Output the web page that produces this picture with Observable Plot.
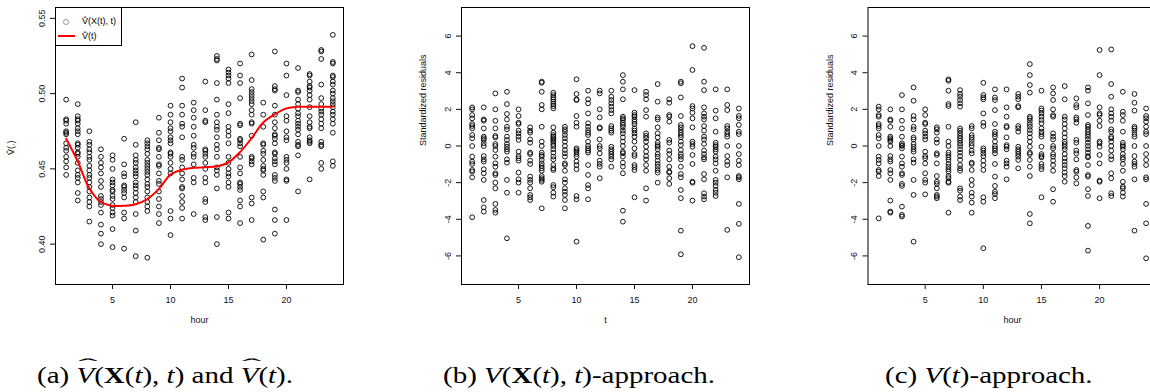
<!DOCTYPE html>
<html>
<head>
<meta charset="utf-8">
<script src="https://cdn.jsdelivr.net/npm/d3@7"></script>
<script src="https://cdn.jsdelivr.net/npm/@observablehq/plot@0.6"></script>
<style>
  body { margin: 0; background: #fff; }
  #wrap { position: relative; width: 1150px; height: 392px; overflow: hidden; background: #fff; }
  .panel { position: absolute; top: 0; }
  .legend { position: absolute; left: 55px; top: 7px; width: 67px; height: 39px; border: 1px solid #000; box-sizing: border-box; background: #fff;
            font-family: "Liberation Sans", Arial, sans-serif; font-size: 9px; color: #000; }
  .legend .circ { position: absolute; left: 7px; top: 11px; width: 4px; height: 4px; border: 0.8px solid #999; border-radius: 50%; }
  .legend .red { position: absolute; left: 2px; top: 27px; width: 17px; height: 2px; background: #ff0000; }
  .legend .lbl { position: absolute; left: 26px; line-height: 10px; white-space: nowrap; }
  .cap { position: absolute; top: 363px; font-family: "Liberation Serif", serif; font-size: 23px; line-height: 26px; white-space: nowrap; color: #000;
         transform: scaleX(1.26); transform-origin: 0 0; }
  .hat { position: relative; display: inline-block; }
  .hat::before { content: "\02C6"; position: absolute; left: 0.1em; right: -0.05em; top: -0.5em; text-align: center; font-style: normal;
                 transform: scale(2.0, 0.75); }
</style>
</head>
<body>
<div id="wrap"></div>
<script>
// x positions: hour of the day, 1..24
const hours = d3.range(1, 25);
const xTicks = [5, 10, 15, 20];
const vTicks = [0.40, 0.45, 0.50, 0.55];
const rTicks = [-6, -4, -2, 0, 2, 4, 6];

// V-hat(X(t), t): one list of estimates per hour
const vhatXt = [
  [0.496,0.483,0.482,0.480,0.475,0.474,0.473,0.467,0.464,0.462,0.458,0.455,0.451,0.446],
  [0.493,0.485,0.483,0.482,0.480,0.477,0.475,0.473,0.467,0.466,0.464,0.461,0.460,0.458,0.454,0.449,0.446,0.444,0.441,0.434,0.429],
  [0.475,0.468,0.466,0.463,0.461,0.458,0.456,0.452,0.449,0.446,0.444,0.441,0.438,0.435,0.431,0.428,0.425,0.415],
  [0.463,0.458,0.454,0.451,0.447,0.442,0.438,0.432,0.430,0.428,0.426,0.421,0.413,0.407,0.400],
  [0.459,0.456,0.450,0.443,0.441,0.439,0.436,0.435,0.432,0.430,0.426,0.424,0.421,0.419,0.410,0.398],
  [0.470,0.453,0.447,0.445,0.439,0.438,0.436,0.434,0.431,0.421,0.417,0.397],
  [0.481,0.466,0.459,0.456,0.454,0.451,0.449,0.447,0.445,0.441,0.439,0.437,0.434,0.431,0.428,0.420,0.409,0.392],
  [0.469,0.467,0.465,0.463,0.460,0.456,0.454,0.452,0.450,0.448,0.446,0.443,0.440,0.438,0.435,0.431,0.428,0.425,0.422,0.391],
  [0.484,0.474,0.469,0.464,0.463,0.458,0.453,0.452,0.447,0.442,0.440,0.435,0.430,0.425,0.420,0.414],
  [0.492,0.486,0.481,0.477,0.475,0.471,0.469,0.467,0.461,0.460,0.458,0.454,0.450,0.447,0.422,0.417,0.406],
  [0.510,0.504,0.492,0.486,0.480,0.478,0.471,0.458,0.456,0.451,0.447,0.443,0.438,0.437,0.432,0.428,0.424,0.417],
  [0.494,0.489,0.484,0.478,0.472,0.466,0.464,0.460,0.458,0.453,0.444,0.441,0.420],
  [0.508,0.489,0.482,0.481,0.463,0.462,0.460,0.458,0.454,0.450,0.444,0.441,0.430,0.428,0.418,0.416],
  [0.525,0.523,0.522,0.507,0.496,0.486,0.481,0.478,0.476,0.471,0.466,0.463,0.458,0.451,0.449,0.446,0.437,0.418,0.400],
  [0.516,0.514,0.512,0.510,0.507,0.493,0.487,0.478,0.475,0.472,0.467,0.458,0.454,0.450,0.447,0.445,0.441,0.438,0.421,0.417],
  [0.520,0.512,0.507,0.497,0.480,0.479,0.470,0.469,0.467,0.465,0.458,0.451,0.447,0.441,0.440,0.438,0.436,0.429,0.425,0.414],
  [0.526,0.509,0.503,0.501,0.499,0.497,0.495,0.493,0.489,0.486,0.481,0.480,0.472,0.458,0.457,0.455,0.453,0.431,0.427,0.416],
  [0.494,0.486,0.478,0.467,0.466,0.462,0.460,0.456,0.452,0.450,0.449,0.446,0.435,0.431,0.403],
  [0.528,0.505,0.503,0.502,0.492,0.486,0.481,0.477,0.473,0.472,0.470,0.467,0.461,0.460,0.457,0.455,0.453,0.446,0.444,0.442,0.423,0.416,0.407],
  [0.520,0.512,0.499,0.485,0.482,0.475,0.471,0.469,0.458,0.456,0.454,0.450,0.443,0.442,0.416],
  [0.517,0.502,0.501,0.496,0.493,0.490,0.487,0.485,0.482,0.480,0.478,0.476,0.473,0.468,0.466,0.465,0.459,0.435],
  [0.513,0.512,0.508,0.505,0.504,0.502,0.499,0.496,0.491,0.485,0.481,0.478,0.477,0.471,0.469,0.468,0.467,0.443],
  [0.529,0.528,0.523,0.506,0.497,0.493,0.490,0.488,0.486,0.483,0.480,0.477,0.468,0.466,0.465,0.454,0.450],
  [0.539,0.521,0.520,0.512,0.511,0.508,0.506,0.502,0.500,0.497,0.495,0.493,0.491,0.488,0.486,0.483,0.480,0.474,0.455,0.452]
];

// V-hat(t): the smooth hourly estimate
const vhatT = [0.470,0.455,0.437,0.428,0.4255,0.4255,0.4265,0.430,0.4367,0.4462,0.4495,0.4507,
               0.4511,0.4518,0.4544,0.4611,0.4705,0.4808,0.4863,0.4902,0.4912,0.4912,0.4912,0.4912];

// standardized residuals, V(X(t), t)-approach
const residX = [
  [2.11,2.0,1.69,1.51,1.2,1.09,0.96,0.6,0.42,0,-0.58,-0.85,-0.98,-1.31,-1.4,-1.71,-3.89],
  [2.11,1.45,1.38,0.96,0.51,0.42,0.33,0.15,0,-0.55,-0.73,-0.85,-1.27,-1.49,-1.85,-2.95,-3.35,-3.58],
  [2.87,2.0,1.38,0.96,0.55,0.47,0.11,0,-0.22,-0.58,-0.95,-1.13,-1.49,-1.58,-2.0,-2.31,-3.16,-3.49,-3.64],
  [2.96,2.29,1.75,1.45,1.05,0.91,0.51,0.33,0.11,-0.04,-0.18,-0.31,-0.73,-0.91,-1.85,-2.55,-5.04],
  [2.0,1.64,1.27,1.2,0.84,0.69,0.51,0.33,-0.31,-0.55,-0.67,-0.8,-1.45,-1.82,-2.0,-2.55],
  [1.02,0.84,0.73,0.36,0.18,-0.36,-0.44,-0.8,-0.98,-1.67,-1.85,-2.0,-2.31,-2.67,-2.8,-2.95],
  [3.51,3.45,2.96,2.24,2.0,1.05,0.24,0,-0.36,-0.49,-0.58,-0.76,-0.95,-1.09,-1.22,-1.35,-1.64,-1.76,-1.85,-1.95,-3.4],
  [2.91,2.78,2.65,2.55,2.42,2.29,2.18,2.05,1.02,0.73,0.6,0.51,0.42,0.33,0.24,0.11,0,-0.18,-0.36,-0.58,-0.73,-1.04,-1.22,-1.31,-2.13,-2.25,-2.55,-2.76],
  [1.05,0.91,0.78,0.6,0.42,0.24,0,-0.22,-0.4,-0.58,-0.95,-1.04,-1.35,-1.82,-2.0,-2.31,-2.49,-2.67,-2.95,-3.4],
  [3.64,2.84,2.55,2.51,1.64,1.27,1.05,-0.13,-0.22,-0.31,-0.44,-0.58,-0.85,-1.04,-1.27,-2.73,-2.91,-5.22],
  [3.02,2.55,2.33,1.78,1.24,1.05,0.87,0.73,0.6,0.24,0,-0.13,-0.25,-0.36,-1.04,-1.58,-2.13,-2.31,-2.91],
  [3.02,2.87,2.0,1.56,1.02,0.96,0.36,0,-0.13,-0.4,-0.8,-0.98,-1.13,-1.76],
  [3.02,2.69,2.51,2.33,2.15,1.96,1.78,1.09,0.96,0.84,0.73,-0.04,-0.18,-0.31,-0.44,-0.58,-0.73,-1.13],
  [3.87,3.51,3.09,2.55,1.6,1.51,1.42,1.27,1.15,1.02,0.84,0.69,0.47,0.24,0,-0.31,-0.4,-0.58,-0.91,-1.13,-1.49,-3.53,-4.13],
  [3.05,1.82,1.69,1.6,1.45,1.33,1.2,0.96,0.84,0.69,0.51,0.24,-0.13,-0.44,-0.55,-1.04,-1.16,-1.31,-2.8],
  [2.96,2.78,2.55,1.96,1.6,0.69,0.55,0.42,0.24,-0.04,-0.31,-0.55,-0.73,-1.04,-1.35,-2.31,-2.98],
  [3.38,2.42,1.56,1.45,1.02,0.69,0.47,0.18,0.05,-0.04,-0.18,-0.44,-0.58,-0.8,-0.98,-1.13,-1.31,-1.45,-2.0],
  [2.55,2.36,1.69,1.6,1.33,0.33,0.18,-0.25,-0.44,-0.73,-1.13,-1.4,-1.45,-1.76,-2.07],
  [3.51,3.42,2.65,1.64,1.15,1.02,0.87,0.73,0.6,0.47,0.24,0.05,-0.22,-0.44,-0.58,-0.73,-1.13,-1.53,-1.71,-2.4,-2.85,-4.62,-5.91],
  [5.45,4.15,2.18,2.05,1.82,1.51,1.02,0.24,0.11,-0.04,-0.49,-0.98,-1.95,-2.0,-2.98],
  [5.36,3.51,3.05,2.11,1.78,1.6,1.45,1.09,0.84,0.51,0.36,0.11,-0.25,-0.44,-0.62,-0.73,-1.53,-1.82,-2.58,-2.76,-2.91],
  [3.09,1.93,1.51,0.78,0.18,0.05,-0.04,-0.18,-0.31,-0.58,-0.73,-0.95,-1.35,-1.85,-2.0,-2.18,-2.4,-2.55,-2.73],
  [3.09,2.24,1.96,1.09,0.96,0.78,0.65,0.51,0,-0.55,-0.85,-1.04,-1.71,-4.58],
  [2.05,1.64,1.51,1.15,0.78,0.65,0,-0.44,-0.8,-1.04,-1.64,-1.71,-1.82,-3.16,-4.25,-6.07]
];

// standardized residuals, V(t)-approach
const residT = [
  [2.15,2.0,1.69,1.6,1.2,1.09,0.96,0.6,0.42,0,-0.58,-0.76,-0.95,-1.31,-1.4,-1.64,-3.95],
  [2.0,1.45,1.38,1.05,0.51,0.42,0.33,0.24,0,-0.55,-0.73,-0.85,-1.31,-1.49,-1.85,-2.98,-3.58,-3.64],
  [2.78,2.0,1.38,0.96,0.51,0.15,0.05,0,-0.13,-0.58,-0.95,-1.13,-1.49,-1.58,-2.07,-2.18,-3.31,-3.76,-3.85],
  [3.2,2.47,1.64,1.45,1.05,0.91,0.47,0.36,0.11,-0.04,-0.18,-0.31,-0.73,-0.91,-1.85,-2.67,-5.22],
  [2.0,1.69,1.27,1.2,0.84,0.69,0.51,0.36,-0.31,-0.55,-0.67,-0.95,-1.49,-1.85,-2.0,-2.64],
  [1.02,0.91,0.73,0.36,0.18,-0.4,-0.49,-0.95,-1.64,-1.95,-2.07,-2.31,-2.67,-2.76,-2.85],
  [3.64,3.56,3.02,2.29,2.18,1.05,0.24,0,-0.36,-0.49,-0.62,-0.76,-0.98,-1.13,-1.27,-1.4,-1.64,-1.76,-1.95,-2.0,-3.64],
  [3.05,2.84,2.69,2.51,2.33,2.15,0.96,0.84,0.69,0.55,0.42,0.29,0.15,0,-0.18,-0.36,-0.55,-0.76,-1.04,-1.22,-1.35,-2.31,-2.44,-2.76,-2.95],
  [1.09,0.96,0.6,0.47,0.33,0.15,0,-0.25,-0.4,-0.91,-0.98,-1.31,-1.85,-2.13,-2.55,-2.76,-3.09,-3.64],
  [3.45,2.78,2.65,2.55,1.78,1.27,1.09,-0.13,-0.25,-0.4,-0.55,-0.8,-1.04,-1.31,-2.8,-3.04,-5.58],
  [3.09,2.65,2.51,1.96,1.2,0.78,0.65,0.51,0.24,0,-0.13,-0.25,-0.4,-0.98,-1.67,-2.18,-2.49,-2.62,-2.85],
  [3.09,2.11,1.6,1.09,1.02,0.47,0.05,-0.04,-0.18,-0.8,-0.95,-1.13,-1.82],
  [2.84,2.69,2.55,2.18,2.11,1.09,0.96,0.78,-0.04,-0.18,-0.31,-0.44,-0.58,-0.76,-1.22],
  [4.47,3.87,3.33,2.91,1.6,1.51,1.38,1.2,1.05,0.87,0.69,0.47,0.24,-0.04,-0.36,-0.44,-0.76,-1.13,-1.64,-3.71,-4.22],
  [3.02,2.05,1.93,1.78,1.6,1.42,1.24,0.96,0.78,0.65,0.51,-0.04,-0.44,-0.55,-0.62,-0.98,-1.13,-1.27,-2.8],
  [3.2,2.87,2.51,2.0,1.69,1.6,0.69,0.51,0.36,0,-0.13,-0.44,-0.58,-0.8,-1.04,-1.35,-2.36,-3.04],
  [3.27,2.55,1.6,1.45,1.2,0.96,0.69,0.47,0.24,0.11,-0.04,-0.18,-0.44,-0.67,-0.85,-1.04,-1.22,-1.45,-1.64,-1.95],
  [2.6,2.24,2.11,1.56,1.45,1.27,0.33,0.18,-0.25,-0.4,-0.73,-1.31,-1.4,-1.71,-2.04],
  [3.2,3.02,2.33,1.69,1.15,1.05,0.91,0.78,0.65,0.51,0.36,0.18,0,-0.18,-0.36,-0.55,-0.62,-1.04,-1.58,-1.67,-2.36,-2.73,-4.36,-5.71],
  [5.24,3.87,2.11,1.78,1.69,1.38,1.09,0.24,0.15,-0.04,-0.49,-0.95,-1.89,-1.95,-2.85],
  [5.27,3.38,2.69,2.0,1.78,1.6,1.38,0.91,0.78,0.51,0.42,0.24,0,-0.25,-0.55,-0.73,-1.49,-1.76,-2.58,-2.73],
  [2.96,1.87,1.69,1.38,0.78,0.18,0.05,-0.04,-0.18,-0.44,-0.62,-0.73,-0.98,-1.35,-1.95,-2.22,-2.31,-2.55,-2.76],
  [2.84,2.36,1.93,1.05,0.96,0.84,0.65,0.51,0,-0.55,-0.85,-0.98,-1.13,-1.82,-4.62],
  [2.05,1.64,1.51,1.33,1.05,0.78,0.65,0,-0.44,-0.76,-1.04,-1.71,-1.82,-3.16,-4.22,-6.13]
];

// flatten per-hour lists into {hour, value} rows
const long = (cols) => cols.flatMap((vals, i) => vals.map((v) => ({hour: hours[i], value: v})));

function panel({points, curve, yDomain, yTicks, yFormat, xLabel, yLabel, width, marginLeft, marginRight, yLabelDx, yLabelDy = 0}) {
  return Plot.plot({
    width, height: 330,
    marginLeft, marginRight, marginTop: 7, marginBottom: 46,
    x: {domain: [0.08, 24.92]},
    y: {domain: yDomain},
    style: {fontFamily: '"Liberation Sans", Arial, sans-serif', fontSize: "9px", color: "#111", background: "transparent", overflow: "visible"},
    marks: [
      Plot.axisX({ticks: xTicks, tickSize: 5, tickPadding: 7, label: null, tickFormat: (d) => String(d)}),
      Plot.axisY({ticks: yTicks, tickSize: 5, tickRotate: -90, tickPadding: 6, label: null, tickFormat: yFormat}),
      Plot.dot(points, {x: "hour", y: "value", r: 2.4, stroke: "#000", strokeWidth: 0.9, fill: "none"}),
      curve ? Plot.line(curve, {x: "hour", y: "value", stroke: "#ff0000", strokeWidth: 2, curve: "catmull-rom"}) : null,
      Plot.frame({stroke: "#000", strokeWidth: 1}),
      Plot.text([xLabel], {frameAnchor: "bottom", dy: 38.7, text: (d) => d}),
      Plot.text([yLabel], {frameAnchor: "left", dx: yLabelDx, dy: yLabelDy, rotate: -90, text: (d) => d})
    ]
  });
}

const wrap = document.getElementById("wrap");
function place(svg, left) {
  svg.classList.add("panel");
  svg.style.left = left + "px";
  wrap.appendChild(svg);
}

// (a) estimates with the smooth curve
place(panel({
  points: long(vhatXt),
  curve: hours.map((h, i) => ({hour: h, value: vhatT[i]})),
  yDomain: [0.3732, 0.5572], yTicks: vTicks, yFormat: (d) => d.toFixed(2),
  xLabel: "hour", yLabel: "V\u0302(.)",
  width: 350, marginLeft: 55, marginRight: 7, yLabelDx: -44, yLabelDy: 9
}), 0);

// (b) residuals, V(X(t), t)-approach
place(panel({
  points: long(residX),
  yDomain: [-7.56, 7.56], yTicks: rTicks, yFormat: (d) => String(d),
  xLabel: "t", yLabel: "Standardized residuals",
  width: 360, marginLeft: 61, marginRight: 11, yLabelDx: -38
}), 400);

// (c) residuals, V(t)-approach
place(panel({
  points: long(residT),
  yDomain: [-7.56, 7.56], yTicks: rTicks, yFormat: (d) => String(d),
  xLabel: "hour", yLabel: "Standardized residuals",
  width: 370, marginLeft: 67.5, marginRight: 13.7, yLabelDx: -37.5
}), 800);

// legend for panel (a)
const legend = document.createElement("div");
legend.className = "legend";
legend.innerHTML =
  '<span class="circ"></span><span class="lbl" style="top:8px">V\u0302(X(t), t)</span>' +
  '<span class="red"></span><span class="lbl" style="top:23px">V\u0302(t)</span>';
wrap.appendChild(legend);

// sub-figure captions
const caps = [
  {left: 37, html: '(a) <i class="hat">V</i>(<b>X</b>(<i>t</i>), <i>t</i>) and <i class="hat">V</i>(<i>t</i>).'},
  {left: 443, html: '(b) <i>V</i>(<b>X</b>(<i>t</i>), <i>t</i>)-approach.'},
  {left: 885, html: '(c) <i>V</i>(<i>t</i>)-approach.'}
];
for (const c of caps) {
  const d = document.createElement("div");
  d.className = "cap";
  d.style.left = c.left + "px";
  d.innerHTML = c.html;
  wrap.appendChild(d);
}
</script>
</body>
</html>
